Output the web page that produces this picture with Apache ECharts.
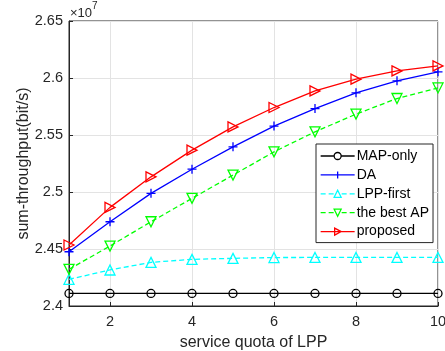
<!DOCTYPE html>
<html>
<head>
<meta charset="utf-8">
<script src="https://cdn.jsdelivr.net/npm/echarts@6/dist/echarts.min.js"></script>
<style>
  html, body { margin: 0; padding: 0; background: #fff; }
  #myChartDiv1 { width: 445px; height: 351px; }
</style>
</head>
<body>
<div id="myChartDiv1"></div>
<script>
// values in units of 10^7 bit/s
var quota = [1, 2, 3, 4, 5, 6, 7, 8, 9, 10];
var mapOnly = [2.411, 2.411, 2.411, 2.411, 2.411, 2.411, 2.411, 2.411, 2.411, 2.411];
var da = [2.4476, 2.4739, 2.4988, 2.5200, 2.5396, 2.5578, 2.5732, 2.5870, 2.5975, 2.6054];
var lppFirst = [2.4234, 2.4316, 2.4383, 2.4409, 2.4418, 2.4425, 2.4426, 2.4426, 2.4426, 2.4426];
var bestAP = [2.4322, 2.4526, 2.4739, 2.4944, 2.5148, 2.5352, 2.5528, 2.5683, 2.5820, 2.5913];
var proposed = [2.4535, 2.4865, 2.5133, 2.5367, 2.5571, 2.5741, 2.5887, 2.5990, 2.6062, 2.6106];
var xTicks = [2, 4, 6, 8, 10];
var legendNames = ["MAP-only", "DA", "LPP-first", "the best AP", "proposed"];

var FONT = "'Liberation Sans', Arial, Helvetica, sans-serif";
var AXIS_COLOR = "#262626";

// legend icons: line sample + small marker, drawn in a 34x7 box
var DASHES = "M0,3.5L5,3.5M8,3.5L13,3.5M21,3.5L26,3.5M29,3.5L34,3.5";
var styles = [
  { color: "#000000", symbol: "circle", size: 8, dashed: false,
    icon: "path://M0,3.5L13.5,3.5M20.5,3.5L34,3.5M13.5,3.5A3.5,3.5,0,1,1,20.5,3.5A3.5,3.5,0,1,1,13.5,3.5Z" },
  { color: "#0000ff", symbol: "path://M5,0L5,10M0,5L10,5", size: 9, dashed: false,
    icon: "path://M0,3.5L34,3.5M17,0L17,7" },
  { color: "#00ffff", symbol: "path://M5,0L10,9L0,9Z", size: 10, dashed: true,
    icon: "path://" + DASHES + "M13.5,7L17,0L20.5,7Z" },
  { color: "#00ff00", symbol: "path://M0,0L10,0L5,9Z", size: 10, dashed: true,
    icon: "path://" + DASHES + "M13.5,0L20.5,0L17,7Z" },
  { color: "#ff0000", symbol: "path://M0,0L9,5L0,10Z", size: 10, dashed: false,
    icon: "path://M0,3.5L34,3.5M14,0L20.5,3.5L14,7Z" }
];

function pairs(ys) {
  return quota.map(function (x, i) { return [x, ys[i]]; });
}

function mkSeries(name, ys, st) {
  return {
    name: name,
    type: "line",
    data: pairs(ys),
    symbol: st.symbol,
    symbolSize: st.size,
    showSymbol: true,
    animation: false,
    lineStyle: { color: st.color, width: 1.3, type: st.dashed ? [5, 3] : "solid" },
    itemStyle: { color: "rgba(0,0,0,0)", borderColor: st.color, borderWidth: 1.3 },
    emphasis: { disabled: true }
  };
}

var values = [mapOnly, da, lppFirst, bestAP, proposed];
var series = legendNames.map(function (n, i) { return mkSeries(n, values[i], styles[i]); });
var legendData = legendNames.map(function (n, i) {
  return {
    name: n,
    icon: styles[i].icon,
    itemStyle: { color: "rgba(0,0,0,0)", borderColor: styles[i].color, borderWidth: 1.3 }
  };
});

var myChart = echarts.init(document.getElementById("myChartDiv1"), null, { renderer: "canvas" });
var option = {
  backgroundColor: "#fff",
  textStyle: { fontFamily: FONT },
  grid: {
    left: 69, right: 7, top: 21, bottom: 45,
    outerBoundsMode: "none",
    show: true, borderColor: AXIS_COLOR, borderWidth: 1
  },
  graphic: [{
    type: "text",
    left: 70, top: 1,
    style: {
      text: "{a|×10}{b|7}",
      rich: {
        a: { fontSize: 13, fontFamily: FONT, fill: AXIS_COLOR, padding: [6, 0, 0, 0] },
        b: { fontSize: 10, fontFamily: FONT, fill: AXIS_COLOR, verticalAlign: "top" }
      }
    }
  }],
  legend: {
    orient: "vertical",
    left: 316, top: 144,
    padding: [5, 4, 4, 4],
    itemWidth: 34, itemHeight: 7, itemGap: 4.9,
    borderColor: AXIS_COLOR, borderWidth: 1, borderRadius: 0,
    backgroundColor: "#fff",
    textStyle: { fontSize: 14, color: "#000", fontFamily: FONT, padding: [0, 0, 0, -3] },
    data: legendData
  },
  xAxis: {
    type: "value",
    min: 1, max: 10,
    name: "service quota of LPP",
    nameLocation: "middle",
    nameGap: 29,
    nameMoveOverlap: false,
    nameTextStyle: { fontSize: 16, color: AXIS_COLOR, fontFamily: FONT },
    axisLine: { lineStyle: { color: AXIS_COLOR, width: 1 } },
    axisTick: { inside: true, length: 4, customValues: xTicks, lineStyle: { color: AXIS_COLOR } },
    axisLabel: { customValues: xTicks, fontSize: 14.5, color: AXIS_COLOR, margin: 8, fontFamily: FONT },
    splitLine: { show: true, lineStyle: { color: "#e3e3e3", width: 1 } }
  },
  yAxis: {
    type: "value",
    min: 2.4, max: 2.65, interval: 0.05,
    name: "sum-throughput(bit/s)",
    nameLocation: "middle",
    nameGap: 37,
    nameMoveOverlap: false,
    nameTextStyle: { fontSize: 16, color: AXIS_COLOR, fontFamily: FONT },
    axisLine: { show: true, lineStyle: { color: AXIS_COLOR, width: 1 } },
    axisTick: { show: true, inside: true, length: 4, lineStyle: { color: AXIS_COLOR } },
    axisLabel: { fontSize: 14.5, color: AXIS_COLOR, margin: 6, fontFamily: FONT },
    splitLine: { show: true, lineStyle: { color: "#e3e3e3", width: 1 } }
  },
  series: series
};
myChart.setOption(option);
</script>
</body>
</html>
